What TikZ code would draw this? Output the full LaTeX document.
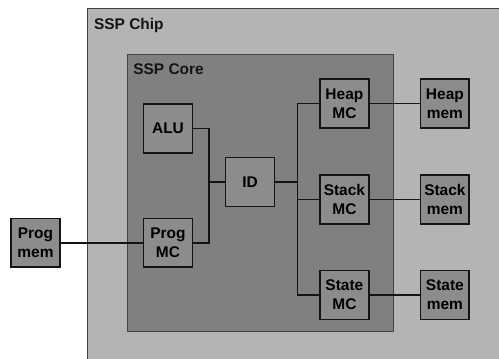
\documentclass[tikz,border=0pt]{standalone}
\usepackage{fontspec}
\setsansfont{Liberation Sans}
\usetikzlibrary{positioning,calc}
\definecolor{chipGray}{RGB}{180,180,180}
\definecolor{coreGray}{RGB}{128,128,128}
\definecolor{unitGray}{RGB}{140,140,140}
\definecolor{inkDark}{RGB}{20,20,20}
\tikzset{
    unit/.style={
        rectangle,
        draw=inkDark,
        line width=1.2pt,
        fill=unitGray,
        minimum width=1.22cm,
        minimum height=1.22cm,
        inner sep=1pt,
        align=center,
        font=\fontsize{11}{13.5}\selectfont\sffamily\bfseries
    },
    area/.style={rectangle, draw=inkDark!80, line width=0.6pt, anchor=north west},
    areaLabel/.style={anchor=north west, inner sep=0pt, font=\fontsize{11}{13.5}\selectfont\sffamily\bfseries, text=inkDark},
    wire/.style={draw=inkDark, line width=0.9pt}
}
\begin{document}
\begin{tikzpicture}
\useasboundingbox (0,0) rectangle (12.475,-8.95);
\clip (0,0) rectangle (12.475,-8.95);

% chip and core areas
\node[area, fill=chipGray, minimum width=11cm, minimum height=9.5cm] (chip) at (2.175,-0.21) {};
\node[areaLabel] (chiplabel) at ($(chip.north west)+(0.17,-0.24)$) {SSP Chip};
\node[area, fill=coreGray, minimum width=6.65cm, minimum height=6.925cm] (core) at (3.175,-1.35) {};
\node[areaLabel] (corelabel) at ($(core.north west)+(0.15,-0.24)$) {SSP Core};

% units
\node[unit] (alu) at (4.2,-3.21) {ALU};
\node[unit, below=1.6cm of alu] (progmc) {Prog\\MC};
\node[unit, left=2.05cm of progmc] (progmem) {Prog\\mem};
\node[unit] (id) at (6.25,-4.55) {ID};
\node[unit] (heapmc) at (8.61,-2.59) {Heap\\MC};
\node[unit, below=1.13cm of heapmc] (stackmc) {Stack\\MC};
\node[unit, below=1.13cm of stackmc] (statemc) {State\\MC};
\node[unit, right=1.25cm of heapmc] (heapmem) {Heap\\mem};
\node[unit, right=1.25cm of stackmc] (stackmem) {Stack\\mem};
\node[unit, right=1.25cm of statemc] (statemem) {State\\mem};

% buses
\coordinate (lbus) at ($(alu.east)!0.5!(id.west)$);
\coordinate (rbus) at ($(id.east)!0.5!(stackmc.west)$);
\draw[wire] (alu.east) -| (lbus |- progmc.east) -- (progmc.east);
\draw[wire] (id.west) -- (lbus |- id.west);
\draw[wire] (heapmc.west) -| (rbus |- statemc.west) -- (statemc.west);
\draw[wire] (id.east) -- (rbus |- id.east);
\draw[wire] (rbus |- stackmc.west) -- (stackmc.west);

% memory links
\draw[wire] (progmem) -- (progmc);
\draw[wire] (heapmc) -- (heapmem);
\draw[wire] (stackmc) -- (stackmem);
\draw[wire] (statemc) -- (statemem);
\end{tikzpicture}
\end{document}
